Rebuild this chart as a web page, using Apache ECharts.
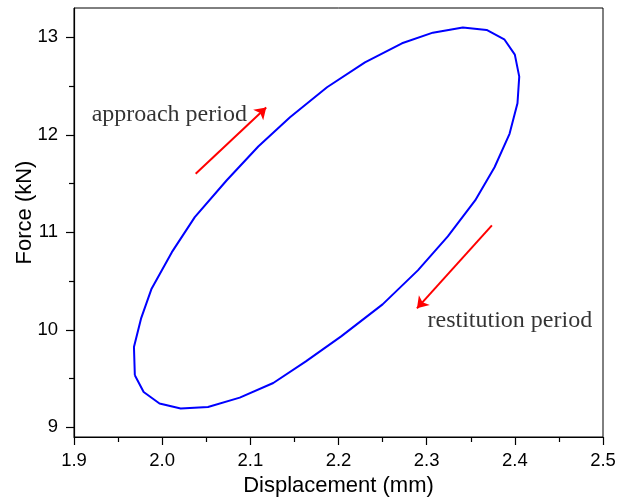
<!DOCTYPE html>
<html>
<head>
<meta charset="utf-8">
<script src="https://cdn.jsdelivr.net/npm/echarts@6/dist/echarts.min.js"></script>
<style>
  html, body { margin: 0; padding: 0; background: #fff; }
  #chart { width: 618px; height: 497px; }
</style>
</head>
<body>
<div id="chart"></div>
<script>
// hysteresis loop (displacement mm, force kN)
var dispValues = [
    1.969, 1.968, 1.976, 1.988, 2.011, 2.037, 2.073, 2.109, 2.145, 2.187,
    2.230, 2.272, 2.307, 2.341, 2.368, 2.388, 2.400, 2.405, 2.403, 2.394,
    2.377, 2.355, 2.324, 2.290, 2.250, 2.203, 2.163, 2.126, 2.088, 2.052,
    2.021, 1.997, 1.979, 1.969
];
var forceValues = [
    9.533, 9.823, 10.114, 10.421, 10.796, 11.155, 11.531, 11.879, 12.179, 12.487,
    12.743, 12.938, 13.047, 13.101, 13.075, 12.979, 12.822, 12.596, 12.323, 12.009,
    11.667, 11.326, 10.957, 10.609, 10.260, 9.932, 9.676, 9.454, 9.304, 9.208,
    9.192, 9.243, 9.362, 9.533
];

var xTicks = [1.9, 2.0, 2.1, 2.2, 2.3, 2.4, 2.5];
var xMinorTicks = [1.95, 2.05, 2.15, 2.25, 2.35, 2.45];
var yTicks = [9, 10, 11, 12, 13];
var yMinorTicks = [9.5, 10.5, 11.5, 12.5];

// annotation arrows [from, to] and labels, in data units
var approachArrow = [[2.038, 11.60], [2.118, 12.28]];
var restitutionArrow = [[2.374, 11.07], [2.289, 10.22]];
var noteLabels = ['approach period', 'restitution period'];
var notePoints = [[1.920, 12.207], [2.301, 10.097]];

var loop = dispValues.map(function (d, i) { return [d, forceValues[i]]; });

var sansFont = '"Liberation Sans", Arial, sans-serif';
var serifFont = '"Liberation Serif", "Times New Roman", serif';

var chart = echarts.init(document.getElementById('chart'), null, { renderer: 'canvas' });

chart.setOption({
    animation: false,
    backgroundColor: '#fff',
    grid: {
        left: 74,
        right: 15,
        top: 8,
        bottom: 60,
        containLabel: false,
        outerBoundsMode: 'none',
        show: true,
        borderColor: '#000',
        borderWidth: 1
    },
    xAxis: [{
        type: 'value',
        min: 1.9,
        max: 2.5,
        name: 'Displacement (mm)',
        nameLocation: 'middle',
        nameGap: 36,
        nameTextStyle: { fontFamily: sansFont, fontSize: 22, color: '#000' },
        axisLine: { lineStyle: { color: '#000', width: 1.2 } },
        axisTick: { customValues: xTicks, length: 8, lineStyle: { color: '#000', width: 1.2 } },
        axisLabel: {
            customValues: xTicks,
            margin: 14,
            fontFamily: sansFont, fontSize: 18.5, color: '#000',
            formatter: function (v) { return v.toFixed(1); }
        },
        splitLine: { show: false }
    }, {
        type: 'value',
        position: 'bottom',
        min: 1.9,
        max: 2.5,
        axisLine: { show: false },
        axisTick: { customValues: xMinorTicks, length: 5, lineStyle: { color: '#000', width: 1.2 } },
        axisLabel: { show: false },
        splitLine: { show: false }
    }],
    yAxis: [{
        type: 'value',
        min: 8.9,
        max: 13.3,
        name: 'Force (kN)',
        nameLocation: 'middle',
        nameGap: 38,
        nameMoveOverlap: false,
        nameTextStyle: { fontFamily: sansFont, fontSize: 22, color: '#000', padding: [0, 0, 0, 20] },
        axisLine: { show: true, lineStyle: { color: '#000', width: 1.2 } },
        axisTick: { show: true, customValues: yTicks, length: 8, lineStyle: { color: '#000', width: 1.2 } },
        axisLabel: {
            customValues: yTicks,
            margin: 16,
            fontFamily: sansFont, fontSize: 18.5, color: '#000'
        },
        splitLine: { show: false }
    }, {
        type: 'value',
        position: 'left',
        min: 8.9,
        max: 13.3,
        axisLine: { show: false },
        axisTick: { show: true, customValues: yMinorTicks, length: 5, lineStyle: { color: '#000', width: 1.2 } },
        axisLabel: { show: false },
        splitLine: { show: false }
    }],
    series: [{
        name: 'loop',
        type: 'line',
        data: loop,
        showSymbol: false,
        smooth: false,
        lineStyle: { color: '#0000ff', width: 2 }
    }, {
        name: 'arrows',
        type: 'lines',
        coordinateSystem: 'cartesian2d',
        symbol: ['none', 'arrow'],
        symbolSize: 11,
        lineStyle: { color: '#ff0000', width: 2, opacity: 1 },
        data: [{ coords: approachArrow }, { coords: restitutionArrow }]
    }, {
        name: 'notes',
        type: 'scatter',
        symbolSize: 0,
        silent: true,
        data: notePoints.map(function (p, i) { return { value: p, name: noteLabels[i] }; }),
        label: {
            show: true,
            position: 'inside',
            align: 'left',
            verticalAlign: 'middle',
            formatter: '{b}',
            fontFamily: serifFont,
            fontSize: 24,
            color: '#000'
        }
    }]
});
</script>
</body>
</html>
